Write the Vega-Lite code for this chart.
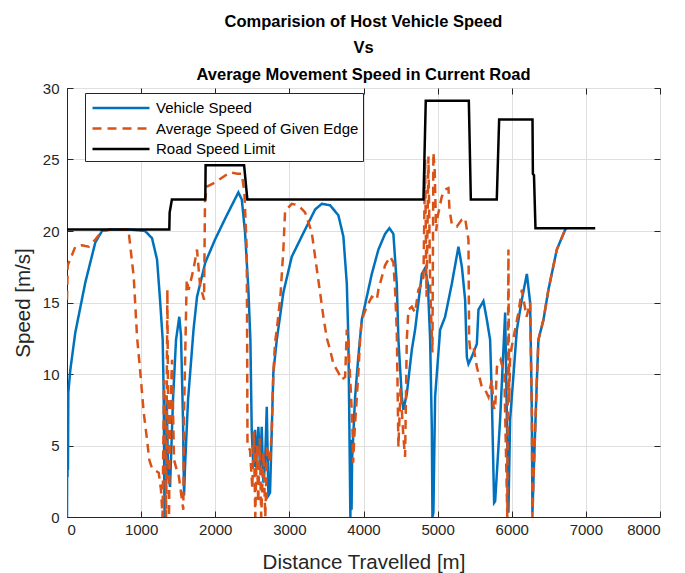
{
  "$schema": "https://vega.github.io/schema/vega-lite/v6.json",
  "autosize": {"type": "none"},
  "padding": {"left": 67, "top": 88, "right": 25, "bottom": 56},
  "width": 593,
  "height": 429,
  "background": "white",
  "title": {
    "text": ["Comparision of Host Vehicle Speed", "Vs", "Average Movement Speed in Current Road"],
    "font": "Liberation Sans, Arial",
    "fontSize": 16.5,
    "fontWeight": "bold",
    "lineHeight": 26.5,
    "offset": -2,
    "color": "#000000",
    "anchor": "middle"
  },
  "config": {
    "view": {"stroke": "#262626", "strokeWidth": 1},
    "axis": {
      "labelFont": "Liberation Sans, Arial",
      "titleFont": "Liberation Sans, Arial",
      "labelColor": "#262626",
      "titleColor": "#262626",
      "domainColor": "#262626",
      "tickColor": "#262626",
      "gridColor": "#dfdfdf",
      "gridOpacity": 1,
      "labelFontSize": 15,
      "titleFontSize": 20.5,
      "titleFontWeight": "normal",
      "tickSize": -6,
      "tickWidth": 1
    },
    "legend": {
      "labelFont": "Liberation Sans, Arial",
      "labelFontSize": 15,
      "labelColor": "#000000",
      "labelLimit": 0
    }
  },
  "data": {
    "values": [
      {"s":"a","d":0,"v":0},{"s":"a","d":4,"v":8.7},{"s":"a","d":7,"v":2.8},{"s":"a","d":11,"v":8.2},{"s":"a","d":13,"v":3.3},{"s":"a","d":18,"v":8.7},{"s":"a","d":45,"v":10.3},{"s":"a","d":112,"v":12.9},{"s":"a","d":247,"v":16.4},{"s":"a","d":382,"v":19.2},{"s":"a","d":472,"v":20.0},{"s":"a","d":580,"v":20.1},{"s":"a","d":850,"v":20.1},{"s":"a","d":1053,"v":20.0},{"s":"a","d":1147,"v":19.5},{"s":"a","d":1215,"v":18.0},{"s":"a","d":1255,"v":15.2},{"s":"a","d":1291,"v":12.4},{"s":"a","d":1305,"v":8.4},{"s":"a","d":1316,"v":0},{"s":"a","d":1327,"v":6.1},{"s":"a","d":1336,"v":1.9},{"s":"a","d":1345,"v":8.4},{"s":"a","d":1363,"v":3.3},{"s":"a","d":1390,"v":2.1},{"s":"a","d":1430,"v":8.2},{"s":"a","d":1471,"v":12.4},{"s":"a","d":1515,"v":14.0},{"s":"a","d":1538,"v":12.7},{"s":"a","d":1565,"v":6.8},{"s":"a","d":1579,"v":1.5},{"s":"a","d":1592,"v":3.5},{"s":"a","d":1633,"v":8.2},{"s":"a","d":1707,"v":13.1},{"s":"a","d":1754,"v":15.4},{"s":"a","d":1866,"v":17.8},{"s":"a","d":1997,"v":19.4},{"s":"a","d":2146,"v":21.0},{"s":"a","d":2312,"v":22.7},{"s":"a","d":2358,"v":22.2},{"s":"a","d":2402,"v":19.9},{"s":"a","d":2447,"v":15.9},{"s":"a","d":2474,"v":12.4},{"s":"a","d":2492,"v":6.1},{"s":"a","d":2514,"v":3.5},{"s":"a","d":2537,"v":6.1},{"s":"a","d":2545,"v":3.5},{"s":"a","d":2582,"v":6.3},{"s":"a","d":2605,"v":3.3},{"s":"a","d":2627,"v":6.3},{"s":"a","d":2650,"v":2.4},{"s":"a","d":2672,"v":3.8},{"s":"a","d":2695,"v":7.7},{"s":"a","d":2717,"v":1.5},{"s":"a","d":2739,"v":1.7},{"s":"a","d":2784,"v":10.1},{"s":"a","d":2830,"v":12.4},{"s":"a","d":2919,"v":15.7},{"s":"a","d":3032,"v":18.2},{"s":"a","d":3212,"v":20.1},{"s":"a","d":3347,"v":21.5},{"s":"a","d":3437,"v":21.9},{"s":"a","d":3549,"v":21.8},{"s":"a","d":3661,"v":21.1},{"s":"a","d":3729,"v":19.6},{"s":"a","d":3775,"v":16.3},{"s":"a","d":3796,"v":12.4},{"s":"a","d":3810,"v":6.1},{"s":"a","d":3823,"v":0},{"s":"a","d":3833,"v":5.4},{"s":"a","d":3839,"v":0.5},{"s":"a","d":3846,"v":4.0},{"s":"a","d":3887,"v":8.4},{"s":"a","d":3927,"v":11.0},{"s":"a","d":3977,"v":13.8},{"s":"a","d":4112,"v":17.0},{"s":"a","d":4201,"v":18.7},{"s":"a","d":4291,"v":19.8},{"s":"a","d":4349,"v":20.2},{"s":"a","d":4403,"v":19.8},{"s":"a","d":4449,"v":16.3},{"s":"a","d":4471,"v":12.4},{"s":"a","d":4517,"v":8.4},{"s":"a","d":4538,"v":7.5},{"s":"a","d":4584,"v":8.6},{"s":"a","d":4652,"v":11.7},{"s":"a","d":4696,"v":13.1},{"s":"a","d":4787,"v":17.0},{"s":"a","d":4831,"v":17.4},{"s":"a","d":4868,"v":16.3},{"s":"a","d":4899,"v":12.4},{"s":"a","d":4922,"v":6.1},{"s":"a","d":4930,"v":0},{"s":"a","d":4943,"v":0.3},{"s":"a","d":4966,"v":8.4},{"s":"a","d":5034,"v":13.1},{"s":"a","d":5101,"v":14.0},{"s":"a","d":5191,"v":16.3},{"s":"a","d":5281,"v":18.9},{"s":"a","d":5327,"v":17.5},{"s":"a","d":5371,"v":15.2},{"s":"a","d":5394,"v":11.2},{"s":"a","d":5416,"v":10.7},{"s":"a","d":5461,"v":11.2},{"s":"a","d":5529,"v":12.1},{"s":"a","d":5551,"v":14.5},{"s":"a","d":5618,"v":15.1},{"s":"a","d":5664,"v":13.8},{"s":"a","d":5708,"v":12.4},{"s":"a","d":5731,"v":8.4},{"s":"a","d":5762,"v":1.0},{"s":"a","d":5776,"v":1.1},{"s":"a","d":5843,"v":6.8},{"s":"a","d":5911,"v":14.3},{"s":"a","d":5955,"v":0.3},{"s":"a","d":5978,"v":6.8},{"s":"a","d":6069,"v":13.1},{"s":"a","d":6136,"v":15.2},{"s":"a","d":6204,"v":17.0},{"s":"a","d":6248,"v":15.0},{"s":"a","d":6271,"v":7.3},{"s":"a","d":6279,"v":0.3},{"s":"a","d":6293,"v":2.6},{"s":"a","d":6339,"v":9.6},{"s":"a","d":6360,"v":12.4},{"s":"a","d":6428,"v":13.8},{"s":"a","d":6495,"v":15.9},{"s":"a","d":6608,"v":18.7},{"s":"a","d":6721,"v":20.1},{"s":"a","d":6744,"v":20.2},

      {"s":"b","d":0,"v":15.2},{"s":"b","d":10,"v":17.6},{"s":"b","d":112,"v":18.9},{"s":"b","d":202,"v":19.0},{"s":"b","d":292,"v":18.9},{"s":"b","d":382,"v":19.4},{"s":"b","d":472,"v":20.0},{"s":"b","d":607,"v":20.1},{"s":"b","d":823,"v":20.1},{"s":"b","d":833,"v":19.9},{"s":"b","d":900,"v":16.8},{"s":"b","d":945,"v":12.6},{"s":"b","d":989,"v":10.1},{"s":"b","d":1035,"v":7.3},{"s":"b","d":1080,"v":5.4},{"s":"b","d":1110,"v":4.0},{"s":"b","d":1147,"v":3.4},{"s":"b","d":1237,"v":3.1},{"s":"b","d":1268,"v":1.9},{"s":"b","d":1289,"v":0},{"s":"b","d":1309,"v":9.6},{"s":"b","d":1322,"v":6.8},{"s":"b","d":1336,"v":0},{"s":"b","d":1354,"v":15.9},{"s":"b","d":1363,"v":8.2},{"s":"b","d":1376,"v":0},{"s":"b","d":1390,"v":6.8},{"s":"b","d":1417,"v":11.0},{"s":"b","d":1444,"v":4.0},{"s":"b","d":1480,"v":3.3},{"s":"b","d":1502,"v":3.1},{"s":"b","d":1569,"v":0.5},{"s":"b","d":1579,"v":7.3},{"s":"b","d":1615,"v":16.6},{"s":"b","d":1642,"v":15.9},{"s":"b","d":1705,"v":17.3},{"s":"b","d":1754,"v":18.7},{"s":"b","d":1795,"v":16.2},{"s":"b","d":1849,"v":15.2},{"s":"b","d":1862,"v":22.2},{"s":"b","d":1889,"v":23.1},{"s":"b","d":1997,"v":23.4},{"s":"b","d":2200,"v":24.1},{"s":"b","d":2300,"v":24.0},{"s":"b","d":2358,"v":24.0},{"s":"b","d":2393,"v":22.7},{"s":"b","d":2425,"v":18.7},{"s":"b","d":2430,"v":12.4},{"s":"b","d":2435,"v":4.9},{"s":"b","d":2469,"v":4.7},{"s":"b","d":2500,"v":2.0},{"s":"b","d":2520,"v":6.0},{"s":"b","d":2540,"v":0},{"s":"b","d":2560,"v":5.0},{"s":"b","d":2580,"v":1.0},{"s":"b","d":2600,"v":5.5},{"s":"b","d":2620,"v":0},{"s":"b","d":2650,"v":4.5},{"s":"b","d":2675,"v":0},{"s":"b","d":2700,"v":5.0},{"s":"b","d":2739,"v":3.8},{"s":"b","d":2762,"v":6.1},{"s":"b","d":2784,"v":10.1},{"s":"b","d":2807,"v":12.2},{"s":"b","d":2830,"v":13.1},{"s":"b","d":2880,"v":15.5},{"s":"b","d":2919,"v":18.7},{"s":"b","d":2942,"v":21.4},{"s":"b","d":3032,"v":21.9},{"s":"b","d":3121,"v":21.8},{"s":"b","d":3212,"v":21.3},{"s":"b","d":3302,"v":19.9},{"s":"b","d":3347,"v":18.2},{"s":"b","d":3414,"v":15.7},{"s":"b","d":3459,"v":14.0},{"s":"b","d":3505,"v":12.5},{"s":"b","d":3549,"v":11.7},{"s":"b","d":3594,"v":10.7},{"s":"b","d":3661,"v":10.1},{"s":"b","d":3707,"v":9.6},{"s":"b","d":3752,"v":9.8},{"s":"b","d":3775,"v":13.1},{"s":"b","d":3796,"v":12.4},{"s":"b","d":3810,"v":10.7},{"s":"b","d":3833,"v":8.4},{"s":"b","d":3855,"v":5.6},{"s":"b","d":3860,"v":3.8},{"s":"b","d":3880,"v":6.0},{"s":"b","d":3930,"v":10.0},{"s":"b","d":3954,"v":12.4},{"s":"b","d":3977,"v":13.8},{"s":"b","d":4044,"v":14.7},{"s":"b","d":4112,"v":15.4},{"s":"b","d":4180,"v":15.2},{"s":"b","d":4201,"v":15.9},{"s":"b","d":4291,"v":17.6},{"s":"b","d":4359,"v":18.2},{"s":"b","d":4403,"v":17.8},{"s":"b","d":4430,"v":15.5},{"s":"b","d":4449,"v":13.0},{"s":"b","d":4471,"v":4.9},{"s":"b","d":4500,"v":9.0},{"s":"b","d":4538,"v":5.6},{"s":"b","d":4561,"v":4.2},{"s":"b","d":4584,"v":12.4},{"s":"b","d":4606,"v":14.5},{"s":"b","d":4652,"v":14.7},{"s":"b","d":4696,"v":14.3},{"s":"b","d":4741,"v":15.9},{"s":"b","d":4787,"v":16.3},{"s":"b","d":4809,"v":16.8},{"s":"b","d":4831,"v":25.0},{"s":"b","d":4850,"v":15.4},{"s":"b","d":4876,"v":25.2},{"s":"b","d":4900,"v":16.0},{"s":"b","d":4930,"v":11.5},{"s":"b","d":4943,"v":25.5},{"s":"b","d":4960,"v":24.3},{"s":"b","d":4980,"v":20.0},{"s":"b","d":5000,"v":21.0},{"s":"b","d":5056,"v":22.4},{"s":"b","d":5101,"v":22.9},{"s":"b","d":5146,"v":23.0},{"s":"b","d":5160,"v":21.5},{"s":"b","d":5191,"v":20.5},{"s":"b","d":5259,"v":20.3},{"s":"b","d":5327,"v":20.8},{"s":"b","d":5371,"v":20.9},{"s":"b","d":5394,"v":20.1},{"s":"b","d":5416,"v":19.4},{"s":"b","d":5425,"v":12.4},{"s":"b","d":5440,"v":11.7},{"s":"b","d":5484,"v":11.9},{"s":"b","d":5529,"v":10.5},{"s":"b","d":5596,"v":9.1},{"s":"b","d":5641,"v":8.9},{"s":"b","d":5686,"v":8.4},{"s":"b","d":5731,"v":9.6},{"s":"b","d":5755,"v":7.7},{"s":"b","d":5776,"v":7.5},{"s":"b","d":5800,"v":10.5},{"s":"b","d":5850,"v":11.0},{"s":"b","d":5900,"v":10.0},{"s":"b","d":5940,"v":0},{"s":"b","d":5955,"v":18.7},{"s":"b","d":5965,"v":8.0},{"s":"b","d":5978,"v":11.2},{"s":"b","d":6000,"v":11.9},{"s":"b","d":6090,"v":14.3},{"s":"b","d":6136,"v":15.9},{"s":"b","d":6200,"v":14.0},{"s":"b","d":6248,"v":15.0},{"s":"b","d":6271,"v":7.3},{"s":"b","d":6279,"v":0},{"s":"b","d":6293,"v":2.6},{"s":"b","d":6339,"v":9.6},{"s":"b","d":6360,"v":12.4},{"s":"b","d":6428,"v":13.8},{"s":"b","d":6495,"v":15.9},{"s":"b","d":6608,"v":18.7},{"s":"b","d":6721,"v":20.1},{"s":"b","d":6744,"v":20.2},

      {"s":"c","d":0,"v":20.1},{"s":"c","d":1380,"v":20.1},{"s":"c","d":1385,"v":21.3},{"s":"c","d":1415,"v":22.2},{"s":"c","d":1866,"v":22.2},{"s":"c","d":1870,"v":24.6},{"s":"c","d":2389,"v":24.6},{"s":"c","d":2433,"v":22.2},{"s":"c","d":4809,"v":22.2},{"s":"c","d":4840,"v":29.1},{"s":"c","d":5421,"v":29.1},{"s":"c","d":5448,"v":22.2},{"s":"c","d":5798,"v":22.2},{"s":"c","d":5830,"v":27.8},{"s":"c","d":6280,"v":27.8},{"s":"c","d":6285,"v":24.0},{"s":"c","d":6300,"v":23.9},{"s":"c","d":6320,"v":20.2},{"s":"c","d":7126,"v":20.2}
    ]
  },
  "encoding": {
    "x": {
      "field": "d", "type": "quantitative",
      "scale": {"domain": [0, 8000], "nice": false},
      "axis": null
    },
    "y": {
      "field": "v", "type": "quantitative",
      "scale": {"domain": [0, 30], "nice": false},
      "axis": null
    },
    "color": {
      "field": "s", "type": "nominal",
      "scale": {"domain": ["a","b","c"], "range": ["#0072BD","#D95319","#000000"]},
      "legend": {
        "title": null,
        "orient": "none",
        "legendX": 18,
        "legendY": 5,
        "fillColor": "white",
        "strokeColor": "#262626",
        "padding": 4,
        "symbolType": "M-3,0H3",
        "symbolSize": 361,
        "symbolOffset": 21,
        "rowPadding": 1.5,
        "labelOffset": 24,
        "labelExpr": "datum.label == 'a' ? 'Vehicle Speed' : datum.label == 'b' ? 'Average Speed of Given Edge' : 'Road Speed Limit'"
      }
    },
    "strokeDash": {
      "field": "s", "type": "nominal",
      "scale": {"domain": ["a","b","c"], "range": [[1,0],[9,6],[1,0]]},
      "legend": null
    },
    "strokeWidth": {
      "field": "s", "type": "nominal",
      "scale": {"domain": ["a","b","c"], "range": [2.5,2.5,3.5]},
      "legend": null
    },
    "order": {"value": null}
  },
  "layer": [
    {
      "transform": [{"filter": "datum.s == 'a'"}],
      "mark": {"type": "line", "clip": true},
      "encoding": {
        "x": {
          "field": "d", "type": "quantitative",
          "scale": {"domain": [0, 8000], "nice": false},
          "axis": {"orient": "bottom", "values": [0,1000,2000,3000,4000,5000,6000,7000,8000], "format": "d", "title": "Distance Travelled [m]", "labelPadding": 11, "titlePadding": 15}
        },
        "y": {
          "field": "v", "type": "quantitative",
          "scale": {"domain": [0, 30], "nice": false},
          "axis": {"orient": "left", "values": [0,5,10,15,20,25,30], "format": "d", "title": "Speed [m/s]", "labelPadding": 14, "titlePadding": 9}
        }
      }
    },
    {"transform": [{"filter": "datum.s == 'b'"}], "mark": {"type": "line", "clip": true}},
    {"transform": [{"filter": "datum.s == 'c'"}], "mark": {"type": "line", "clip": true}},
    {
      "transform": [{"filter": "datum.s == 'c'"}],
      "mark": {"type": "line", "opacity": 0},
      "encoding": {
        "x": {"field": "d", "type": "quantitative", "scale": {"domain": [0, 8000], "nice": false}, "axis": {"orient": "top", "values": [0,1000,2000,3000,4000,5000,6000,7000,8000], "labels": false, "grid": false, "domain": false, "title": null}},
        "y": {"field": "v", "type": "quantitative", "scale": {"domain": [0, 30], "nice": false}, "axis": {"orient": "right", "values": [0,5,10,15,20,25,30], "labels": false, "grid": false, "domain": false, "title": null}}
      }
    }
  ],
  "resolve": {"axis": {"x": "independent", "y": "independent"}}
}
